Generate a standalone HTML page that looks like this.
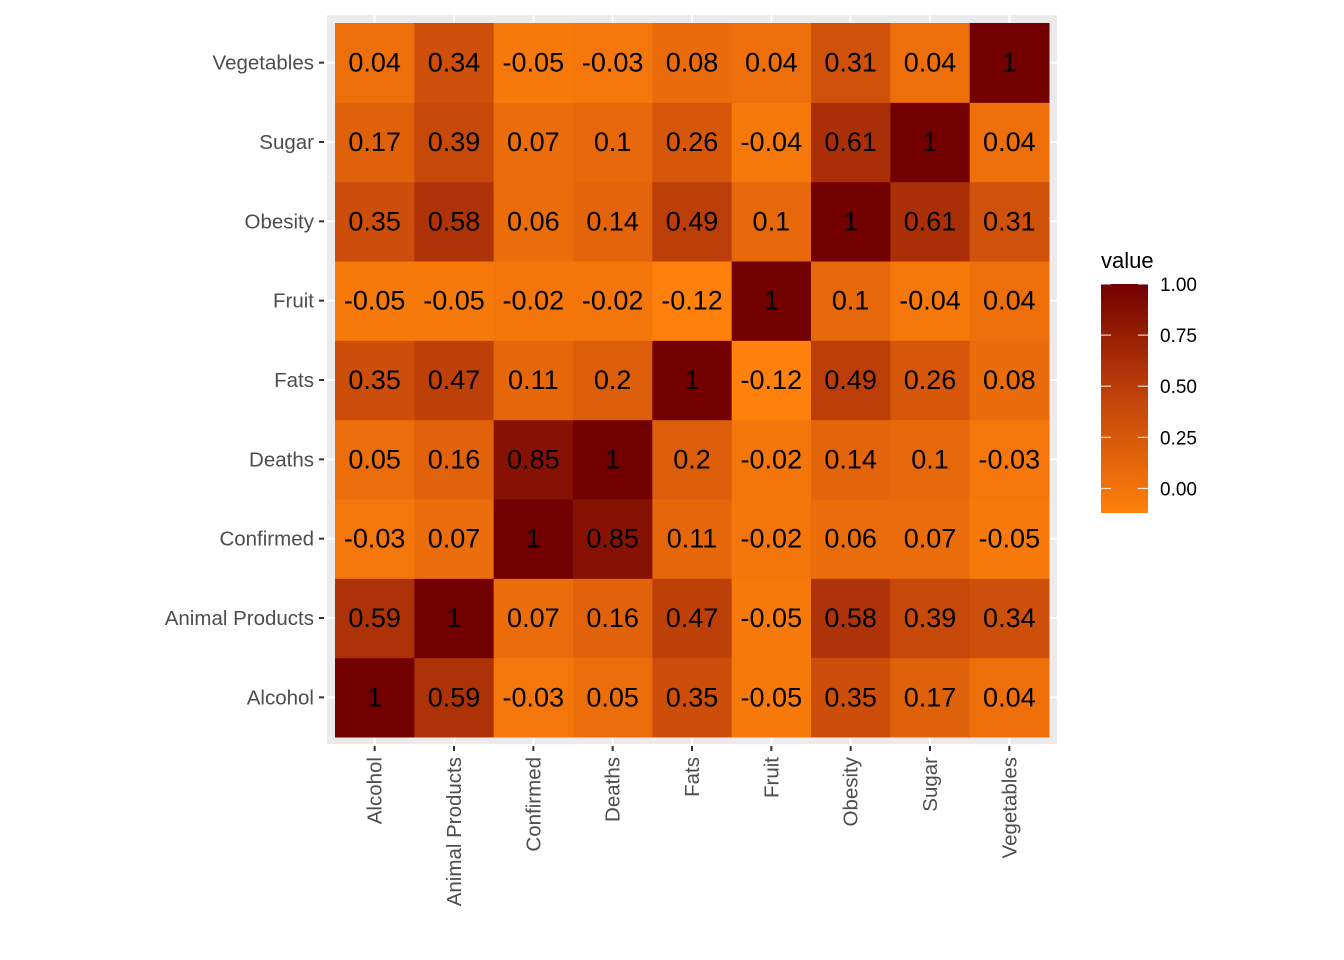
<!DOCTYPE html>
<html><head><meta charset="utf-8"><style>
html,body{margin:0;padding:0;background:#fff;}
svg{display:block;font-family:"Liberation Sans",Arial,sans-serif;}
</style></head><body>
<svg id="chart" width="1344" height="960" viewBox="0 0 1344 960">
<defs><linearGradient id="lg" x1="0" y1="1" x2="0" y2="0">
<stop offset="0" stop-color="#ff800a"/><stop offset="0.5" stop-color="#c2440a"/><stop offset="1" stop-color="#720000"/>
</linearGradient></defs>
<rect x="327" y="15" width="730" height="729" fill="#ebebeb"/>
<g id="grid"></g><g id="cells"></g><g id="axes"></g>
<g>
<text x="1101" y="268" font-size="22" fill="#000">value</text>
<rect x="1101" y="284" width="47" height="229" fill="url(#lg)"/>
<g id="legticks"></g>
</g>
</svg>
<script>
const vars = ["Alcohol","Animal Products","Confirmed","Deaths","Fats","Fruit","Obesity","Sugar","Vegetables"];
const matrix = [
[1,0.59,-0.03,0.05,0.35,-0.05,0.35,0.17,0.04],
[0.59,1,0.07,0.16,0.47,-0.05,0.58,0.39,0.34],
[-0.03,0.07,1,0.85,0.11,-0.02,0.06,0.07,-0.05],
[0.05,0.16,0.85,1,0.2,-0.02,0.14,0.1,-0.03],
[0.35,0.47,0.11,0.2,1,-0.12,0.49,0.26,0.08],
[-0.05,-0.05,-0.02,-0.02,-0.12,1,0.1,-0.04,0.04],
[0.35,0.58,0.06,0.14,0.49,0.1,1,0.61,0.31],
[0.17,0.39,0.07,0.1,0.26,-0.04,0.61,1,0.04],
[0.04,0.34,-0.05,-0.03,0.08,0.04,0.31,0.04,1]
];
const legendTicks = [0,0.25,0.5,0.75,1];
const NS="http://www.w3.org/2000/svg";
const x0=335, y1=737, cw=(1049-335)/9, ch=(737-23)/9;
const xc=i=>x0+cw*(i+0.5), yc=i=>y1-ch*(i+0.5);
const vmin=-0.12,vmax=1;
function lerp(a,b,t){return a+(b-a)*t;}
const stops=[[255,128,10],[194,68,10],[114,0,0]];
function color(v){let t=(v-vmin)/(vmax-vmin);t=Math.max(0,Math.min(1,t));
 let s=t<0.5?0:1, u=t<0.5?t*2:(t-0.5)*2;
 const a=stops[s],b=stops[s+1];
 return `rgb(${Math.round(lerp(a[0],b[0],u))},${Math.round(lerp(a[1],b[1],u))},${Math.round(lerp(a[2],b[2],u))})`;}
function mk(tag,attrs,parent){const e=document.createElementNS(NS,tag);for(const k in attrs)e.setAttribute(k,attrs[k]);parent.appendChild(e);return e;}
const grid=document.getElementById('grid'),cells=document.getElementById('cells'),axes=document.getElementById('axes');
vars.forEach((v,i)=>{
 const gv=mk('line',{x1:xc(i),x2:xc(i),y1:15,y2:744,stroke:'#fff','stroke-width':2},grid);
 
 
 const gh=mk('line',{x1:327,x2:1057,y1:yc(i),y2:yc(i),stroke:'#fff','stroke-width':2},grid);
 
 
});
matrix.forEach((row,r)=>row.forEach((val,c)=>{
 const rc=mk('rect',{x:x0+cw*c,y:y1-ch*(r+1),width:cw+0.5,height:ch+0.5,fill:color(val)},cells);
 
 
 const t=mk('text',{x:xc(c),y:yc(r)+9,'text-anchor':'middle','font-size':27,fill:'#000'},cells);
 t.textContent=String(val);
 
 
}));
vars.forEach((v,i)=>{
 mk('line',{x1:319,x2:324,y1:yc(i),y2:yc(i),stroke:'#333','stroke-width':2},axes);
 const ty=mk('text',{x:314,y:yc(i)+7,'text-anchor':'end','font-size':20.5,fill:'#4d4d4d'},axes);
 ty.textContent=v;
 
 
 mk('line',{x1:xc(i),x2:xc(i),y1:746,y2:751,stroke:'#333','stroke-width':2},axes);
 const tx=mk('text',{x:0,y:0,'text-anchor':'end','font-size':20.5,fill:'#4d4d4d',transform:`translate(${xc(i)+7},757) rotate(-90)`},axes);
 tx.textContent=v;
 
 
});
const lt=document.getElementById('legticks');
legendTicks.forEach(v=>{
 const y=513-(v-vmin)/(vmax-vmin)*229;
 mk('line',{x1:1101,x2:1111,y1:y,y2:y,stroke:'#fff','stroke-width':1.2,opacity:0.8},lt);
 mk('line',{x1:1138,x2:1148,y1:y,y2:y,stroke:'#fff','stroke-width':1.2,opacity:0.8},lt);
 const t=mk('text',{x:1160,y:y+7,'font-size':19,fill:'#000'},lt);
 t.textContent=v.toFixed(2);
 
 
});
</script>
</body></html>
